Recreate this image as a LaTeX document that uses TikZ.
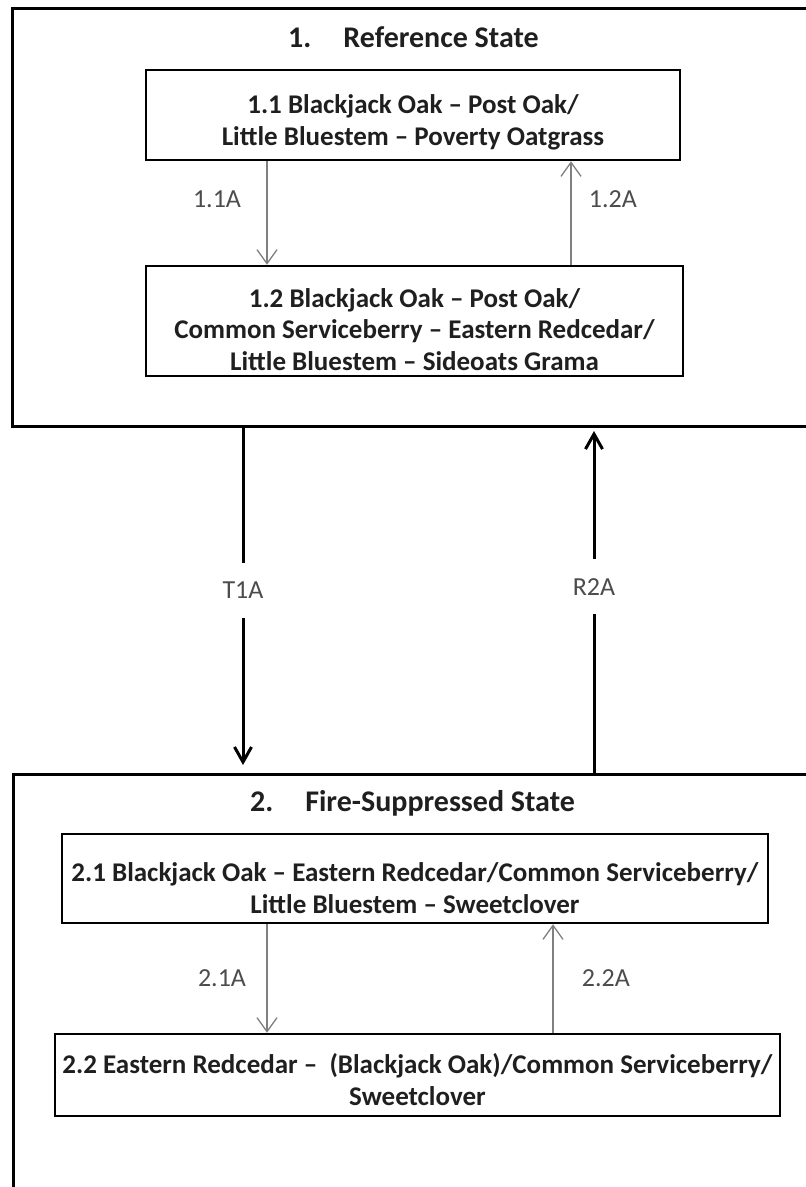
\documentclass[tikz,border=0pt]{standalone}
\usepackage{fontspec}
\setmainfont{Carlito}
\usetikzlibrary{positioning,arrows.meta}

\begin{document}
\begin{tikzpicture}[x=1pt, y=-1pt,
                state_box/.style={rectangle, draw, line width=3pt, anchor=north west, inner sep=0pt, minimum width=830pt},
                comm_box/.style={rectangle, draw, line width=2.5pt, align=center, inner sep=0pt, font=\fontsize{27}{31.5}\selectfont\bfseries, text=black!88},
                text_base/.style={text height=#1, text depth=0pt},
                state_title/.style={font=\fontsize{30}{36}\selectfont\bfseries, text=black!88},
                thin_arrow/.style={-{Straight Barb[length=14pt, width=20pt]}, line width=1.3pt, draw=black!50},
                thick_arrow/.style={-{Straight Barb[length=15pt, width=17pt]}, line width=3pt},
                path_label/.style={font=\fontsize{26}{31}\selectfont, text=black!70},
                gap_label/.style={path_label, fill=white, minimum height=55pt, inner sep=0pt}
            ]
                \useasboundingbox (0,0) rectangle (806,1187);
                \clip (0,0) rectangle (806,1187);

                \node[state_box, minimum height=418pt] (state1) at (11,7) {};
                \node[state_title] (title1) at (413.5,37) {1.\hspace{32pt}Reference State};
                \node[comm_box, text_base=60pt, minimum width=534pt, minimum height=90pt] (box11) at (413,115)
                    {1.1 Blackjack Oak – Post Oak/\\Little Bluestem – Poverty Oatgrass};
                \node[comm_box, text_base=98pt, minimum width=537pt, minimum height=110pt] (box12) at (414.5,321)
                    {1.2 Blackjack Oak – Post Oak/\\Common Serviceberry – Eastern Redcedar/\\Little Bluestem – Sideoats Grama};

                \node[state_box, minimum height=500pt] (state2) at (12,773) {};
                \node[state_title] (title2) at (412.5,803) {2.\hspace{32pt}Fire-Suppressed State};
                \node[comm_box, text_base=69pt, minimum width=706pt, minimum height=89pt] (box21) at (415,878.5)
                    {2.1 Blackjack Oak – Eastern Redcedar/Common Serviceberry/\\Little Bluestem – Sweetclover};
                \node[comm_box, text_base=60pt, minimum width=725pt, minimum height=82pt] (box22) at (417.5,1075)
                    {2.2 Eastern Redcedar –\ \ (Blackjack Oak)/Common Serviceberry/\\Sweetclover};

                \coordinate (x11) at (267,0);
                \coordinate (x12) at (571,0);
                \coordinate (x21) at (267,0);
                \coordinate (x22) at (553,0);
                \coordinate (xt1) at (243,0);
                \coordinate (xr2) at (594,0);

                \draw[thin_arrow] (box11.south -| x11) -- node[path_label, pos=0.37, left=22pt] {1.1A} (box12.north -| x11);
                \draw[thin_arrow] (box12.north -| x12) -- node[path_label, pos=0.63, right=14pt] {1.2A} (box11.south -| x12);
                \draw[thin_arrow] (box21.south -| x21) -- node[path_label, midway, left=17pt] {2.1A} (box22.north -| x21);
                \draw[thin_arrow] (box22.north -| x22) -- node[path_label, midway, right=25pt] {2.2A} (box21.south -| x22);

                \draw[thick_arrow, shorten >=8pt] (state1.south -| xt1) -- node[gap_label, pos=0.47] {T1A} (state2.north -| xt1);
                \draw[thick_arrow, shorten >=3pt] (state2.north -| xr2) -- node[gap_label, pos=0.54] {R2A} (state1.south -| xr2);
            \end{tikzpicture}
\end{document}
